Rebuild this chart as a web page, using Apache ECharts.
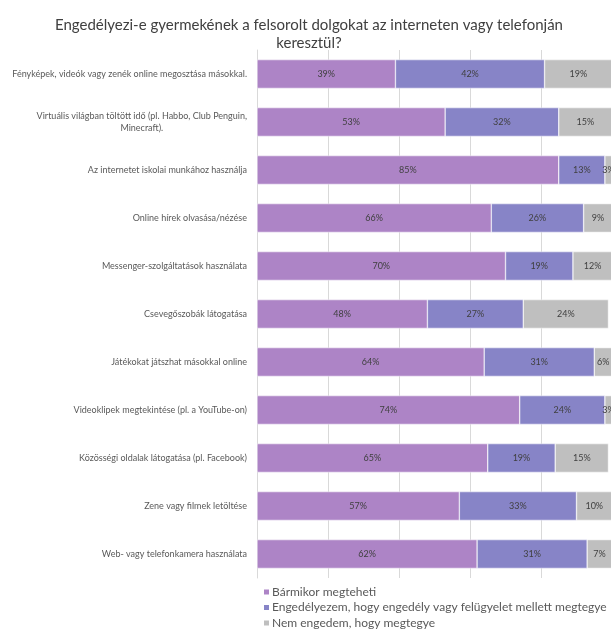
<!DOCTYPE html>
<html>
<head>
<meta charset="utf-8">
<script src="https://cdn.jsdelivr.net/npm/echarts@6/dist/echarts.min.js"></script>
<style>
  html, body { margin: 0; padding: 0; background: #fff; }
  #chart { width: 611px; height: 633px; }
</style>
</head>
<body>
<div id="chart"></div>
<script>
// Survey: what parents allow their children to do online / on the phone
const categories = [
  'Fényképek, videók vagy zenék online megosztása másokkal.',
  'Virtuális világban töltött idő (pl. Habbo, Club Penguin,\nMinecraft).',
  'Az internetet iskolai munkához használja',
  'Online hírek olvasása/nézése',
  'Messenger-szolgáltatások használata',
  'Csevegőszobák látogatása',
  'Játékokat játszhat másokkal online',
  'Videoklipek megtekintése (pl. a YouTube-on)',
  'Közösségi oldalak látogatása (pl. Facebook)',
  'Zene vagy filmek letöltése',
  'Web- vagy telefonkamera használata'
];
const seriesNames = [
  'Bármikor megteheti',
  'Engedélyezem, hogy engedély vagy felügyelet mellett megtegye',
  'Nem engedem, hogy megtegye'
];
const anytime    = [39, 53, 85, 66, 70, 48, 64, 74, 65, 57, 62];
const supervised = [42, 32, 13, 26, 19, 27, 31, 24, 19, 33, 31];
const never      = [19, 15, 3, 9, 12, 24, 6, 3, 15, 10, 7];
const xTicks = [0, 20, 40, 60, 80, 100];

const colors = ['#AD84C6', '#8784C7', '#BFBFBF'];
const font = 'Lato, "Noto Sans", sans-serif';

const chart = echarts.init(document.getElementById('chart'), null, { renderer: 'canvas' });

function barSeries(name, data, color) {
  return {
    name: name,
    type: 'bar',
    stack: 'total',
    barCategoryGap: '40%',
    data: data,
    itemStyle: { color: color, borderColor: '#ffffff', borderWidth: 0.5 },
    label: {
      show: true,
      position: 'inside',
      formatter: p => p.value + '%',
      color: '#404040',
      fontFamily: font,
      fontSize: 9
    },
    emphasis: { disabled: true }
  };
}

chart.setOption({
  animation: false,
  color: colors,
  title: {
    text: 'Engedélyezi-e gyermekének a felsorolt dolgokat az interneten vagy telefonján\nkeresztül?',
    left: 304,
    textAlign: 'center',
    top: 11,
    textStyle: {
      color: '#404040',
      fontFamily: font,
      fontWeight: 'normal',
      fontSize: 15,
      lineHeight: 18
    }
  },
  legend: {
    orient: 'vertical',
    left: 257,
    top: 584,
    padding: [2, 5, 0, 5],
    itemWidth: 7,
    itemHeight: 7,
    itemGap: 3.5,
    icon: 'rect',
    textStyle: { color: '#595959', fontFamily: font, fontSize: 12, lineHeight: 12, padding: [0, 0, 0, -3] },
    data: seriesNames
  },
  grid: { left: 257, top: 50, width: 355, height: 528, containLabel: false, outerBoundsMode: 'none' },
  xAxis: {
    type: 'value',
    min: xTicks[0],
    max: xTicks[xTicks.length - 1],
    interval: 20,
    axisLabel: { show: false },
    axisLine: { show: false },
    axisTick: { show: false },
    splitLine: { lineStyle: { color: '#D9D9D9', width: 1 } }
  },
  yAxis: {
    type: 'category',
    inverse: true,
    data: categories,
    axisLine: { show: true, lineStyle: { color: '#D9D9D9' } },
    axisTick: { show: false },
    axisLabel: {
      margin: 10,
      color: '#595959',
      fontFamily: font,
      fontSize: 9,
      lineHeight: 12,
      formatter: v => v.split('\n').map(s => '{c|' + s + '}').join('\n'),
      rich: { c: { align: 'center', color: '#595959', fontFamily: font, fontSize: 9, lineHeight: 12 } }
    }
  },
  series: [
    barSeries(seriesNames[0], anytime, colors[0]),
    barSeries(seriesNames[1], supervised, colors[1]),
    barSeries(seriesNames[2], never, colors[2])
  ]
});
</script>
</body>
</html>
